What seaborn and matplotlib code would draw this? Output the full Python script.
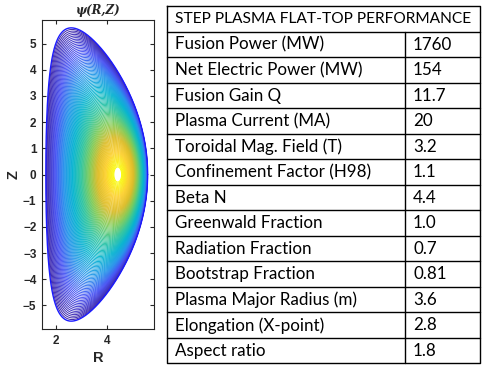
import numpy as np
import matplotlib
matplotlib.use("Agg")
import matplotlib.pyplot as plt
import seaborn as sns
from matplotlib.colors import LinearSegmentedColormap

# ---------------- data ----------------
table_title = "STEP PLASMA FLAT-TOP PERFORMANCE"
param_names = [
    "Fusion Power (MW)",
    "Net Electric Power (MW)",
    "Fusion Gain Q",
    "Plasma Current (MA)",
    "Toroidal Mag. Field (T)",
    "Confinement Factor (H98)",
    "Beta N",
    "Greenwald Fraction",
    "Radiation Fraction",
    "Bootstrap Fraction",
    "Plasma Major Radius (m)",
    "Elongation (X-point)",
    "Aspect ratio",
]
param_values = ["1760", "154", "11.7", "20", "3.2", "1.1", "4.4",
                "1.0", "0.7", "0.81", "3.6", "2.8", "1.8"]

# equilibrium shape parameters
major_radius = 3.6
minor_radius = 2.0
elongation_edge = 2.8
elongation_axis = 1.9
triangularity_edge = 0.5
magnetic_axis_R = 4.43
flux_exponent = 1.2
n_levels = 115
lowest_level = 0.008
highest_level = 0.955

x_ticks = [2, 4]
y_ticks = [-5, -4, -3, -2, -1, 0, 1, 2, 3, 4, 5]

parula_anchors = [
    (0.2422, 0.1504, 0.6603),
    (0.2810, 0.3228, 0.9579),
    (0.1540, 0.5902, 0.9218),
    (0.0297, 0.7082, 0.8163),
    (0.1938, 0.7758, 0.6251),
    (0.5044, 0.7993, 0.3480),
    (0.8634, 0.7406, 0.1596),
    (0.9892, 0.8136, 0.1885),
    (0.9769, 0.9839, 0.0805),
]
parula = LinearSegmentedColormap.from_list("parula", parula_anchors)

# ---------------- style ----------------
sns.set_theme(style="ticks")
plt.rcParams['font.family'] = ['Liberation Sans', 'DejaVu Sans']

fig = plt.figure(figsize=(4.82, 3.70), dpi=100)
fig.patch.set_facecolor("white")

# ---------------- equilibrium contour ----------------
ax = fig.add_axes([42 / 482, 1 - 329 / 370, 112 / 482, 309 / 370])
rho = np.linspace(0, 1, 300)
theta = np.linspace(0, 2 * np.pi, 700)
RH, TH = np.meshgrid(rho, theta)
kappa = elongation_axis + (elongation_edge - elongation_axis) * RH ** 2
delta = triangularity_edge * RH ** 2
Rc = magnetic_axis_R - (magnetic_axis_R - major_radius) * RH ** 2
R = Rc + minor_radius * RH * np.cos(TH + np.arcsin(delta) * np.sin(TH))
Z = kappa * minor_radius * RH * np.sin(TH)
psi = 1 - RH ** flux_exponent
levels = np.linspace(lowest_level, highest_level, n_levels)
ax.contour(R, Z, psi, levels=levels, cmap=parula, linewidths=0.7,
           vmin=lowest_level, vmax=highest_level)
ax.plot(R[:, -1], Z[:, -1], color=(0.1, 0.1, 1.0), lw=1.0)

ax.set_xlim(1.45, 5.85)
ax.set_ylim(-5.9, 5.9)
ax.set_xticks(x_ticks)
ax.set_yticks(y_ticks)
ax.tick_params(direction="in", length=3, width=0.8, top=True, right=True,
               labelsize=8.5, colors="0.15", pad=4)
for lab in ax.get_xticklabels() + ax.get_yticklabels():
    lab.set_fontweight("bold")
for sp in ax.spines.values():
    sp.set_color("0.15")
    sp.set_linewidth(0.8)
ax.set_xlabel("R", fontsize=10.5, fontweight="bold", color="0.15", labelpad=3)
ax.set_ylabel("Z", fontsize=10.5, fontweight="bold", color="0.15", labelpad=2)
ax.set_title("ψ(R,Z)", fontsize=8.5, fontweight="bold", fontstyle="italic",
             family="DejaVu Serif", pad=4)

# ---------------- table ----------------
tab = fig.add_axes([0, 0, 1, 1])
tab.set_xlim(0, 482)
tab.set_ylim(370, 0)
tab.axis("off")
left, right, top, bottom, col = 167, 480, 6, 363, 405
n_rows = len(param_names) + 1
row_h = (bottom - top) / n_rows
lc = "black"
lw = 1.0
tab.plot([left, right, right, left, left], [top, top, bottom, bottom, top],
         color=lc, lw=lw, solid_capstyle="projecting")
for i in range(1, n_rows):
    y = top + i * row_h
    tab.plot([left, right], [y, y], color=lc, lw=lw)
tab.plot([col, col], [top + row_h, bottom], color=lc, lw=lw)

fam = ["Lato", "DejaVu Sans"]
renderer = fig.canvas.get_renderer()


def fitted_size(text, target_px, base=12.0):
    t = fig.text(0, 0, text, family=fam, fontsize=base)
    w = t.get_window_extent(renderer).width
    t.remove()
    return base * target_px / w


head_size = fitted_size(table_title, 297)
row_size = fitted_size(param_names[0], 149)

tab.text(left + 8, top + row_h / 2 + 0.5, table_title, family=fam,
         fontsize=head_size, color="black", va="center", ha="left")
for i, (name, val) in enumerate(zip(param_names, param_values)):
    yc = top + (i + 1.5) * row_h + 0.5
    tab.text(left + 8, yc, name, family=fam, fontsize=row_size,
             color="black", va="center", ha="left")
    tab.text(col + 8, yc, val, family=fam, fontsize=row_size,
             color="black", va="center", ha="left")

fig.savefig("out.png", dpi=100, facecolor="white")
